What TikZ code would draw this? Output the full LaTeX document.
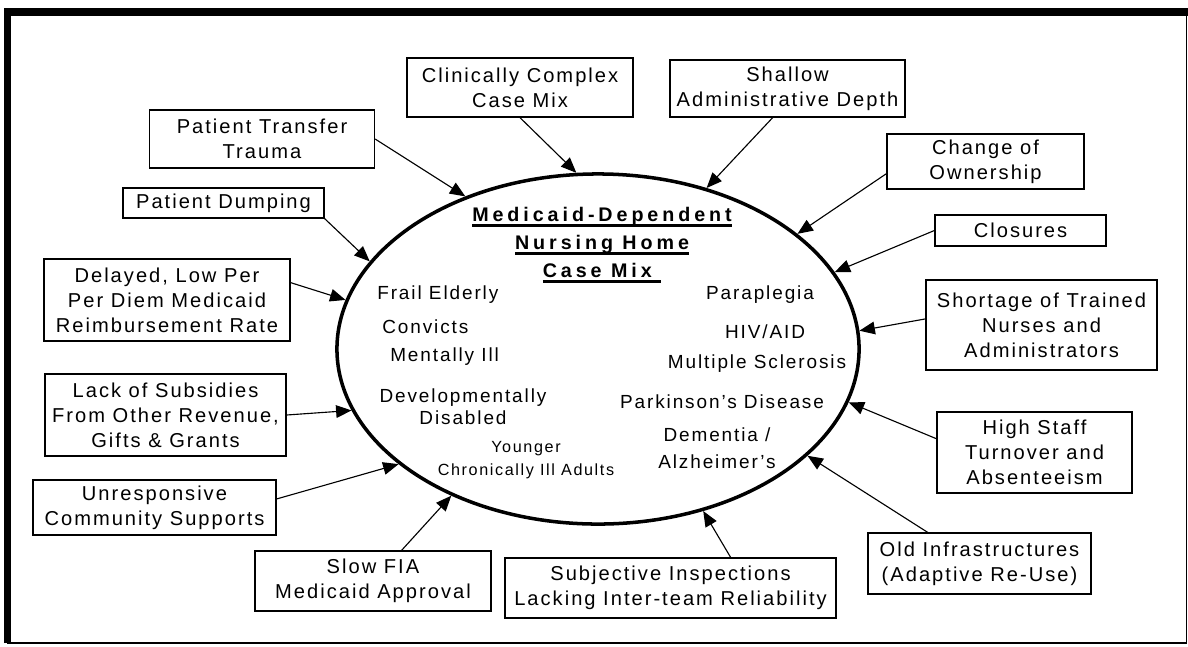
\documentclass[tikz,border=0pt]{standalone}
\usepackage{fontspec}
\setmainfont{Liberation Sans}[LetterSpace=10]
\newfontfamily\headfont{Liberation Sans}[LetterSpace=20]
\usetikzlibrary{shapes.geometric, arrows.meta}

\newcommand{\ulbar}[1]{\leavevmode\setbox0\hbox{#1}\rlap{\rule[-3.4pt]{\wd0}{1.9pt}}\box0}

\tikzset{
  boxsize/.style 2 args={minimum width=#1*0.025cm, minimum height=#2*0.025cm},
  factor/.style={draw, line width=0.9pt, align=center, inner sep=0pt,
    font=\fontsize{14.3}{17.8}\selectfont},
  inside/.style={align=center, inner sep=0pt, font=\fontsize{13.5}{17.8}\selectfont},
  push/.style={-{Triangle[length=11pt,width=9pt]}, line width=0.8pt},
}

\begin{document}
\begin{tikzpicture}[x=0.025cm, y=-0.025cm]
      \useasboundingbox (0,0) rectangle (1188,646);
        % frame
        \draw[line width=1pt] (7.5,12) rectangle (1186.5,643);
        \draw[line width=5pt] (7.5,643) -- (7.5,12) -- (1188,12);

        \node[ellipse, draw, line width=2.5pt, inner sep=0pt,
          minimum width=13.05cm, minimum height=8.75cm] (case) at (598,349) {};

        \node[inside, font=\headfont\bfseries\fontsize{14}{19.9}\selectfont] (head) at (602,245)
          {\ulbar{Medicaid-Dependent}\\\ulbar{Nursing Home}\\\ulbar{Case Mix\ }};

        \node[inside, anchor=west] (frail) at (377,295) {Frail Elderly};
        \node[inside, anchor=west] (convicts) at (382,327) {Convicts};
        \node[inside, anchor=west] (mental) at (390,357) {Mentally Ill};
        \node[inside, font=\fontsize{13.5}{15.6}\selectfont] (devel) at (463,407) {Developmentally\\Disabled};
        \node[inside, font=\fontsize{11.5}{16.4}\selectfont] (young) at (526,460) {Younger\\Chronically Ill Adults};
        \node[inside] (para) at (760,295) {Paraplegia};
        \node[inside] (hiv) at (765,332) {HIV/AID};
        \node[inside] (ms) at (757,364) {Multiple Sclerosis};
        \node[inside] (park) at (722,402) {Parkinson’s Disease};
        \node[inside, font=\fontsize{13.5}{19.2}\selectfont] (dem) at (717,448) {Dementia /\\Alzheimer’s};

        \node[factor, boxsize={226}{59}] (clin) at (520,87.5) {Clinically Complex\\Case Mix};
        \node[factor, boxsize={235}{57}] (shallow) at (787.5,88.5) {Shallow\\Administrative Depth};
        \node[factor, boxsize={225}{58}] (transfer) at (262,139) {Patient Transfer\\Trauma};
        \node[factor, boxsize={201}{30}] (dumping) at (223.5,203) {Patient Dumping};
        \node[factor, boxsize={246}{82}] (delayed) at (167,300) {Delayed, Low Per\\Per Diem Medicaid\\Reimbursement Rate};
        \node[factor, boxsize={241}{82}] (subsidies) at (165.5,415) {Lack of Subsidies\\From Other Revenue,\\Gifts \& Grants};
        \node[factor, boxsize={243}{55}] (unresp) at (154.5,507.5) {Unresponsive\\Community Supports};
        \node[factor, boxsize={236}{60}] (slowfia) at (373,581) {Slow FIA\\Medicaid Approval};
        \node[factor, boxsize={331}{60}] (subjective) at (670.5,588) {Subjective Inspections\\Lacking Inter-team Reliability};
        \node[factor, boxsize={223}{61}] (oldinfra) at (979.5,563.5) {Old Infrastructures\\(Adaptive Re-Use)};
        \node[factor, boxsize={195}{81}] (highstaff) at (1034.5,452.5) {High Staff\\Turnover and\\Absenteeism};
        \node[factor, boxsize={231}{90}] (shortage) at (1041.5,325) {Shortage of Trained\\Nurses and\\Administrators};
        \node[factor, boxsize={171}{31}] (closures) at (1020.5,230.5) {Closures};
        \node[factor, boxsize={197}{55}] (ownership) at (985.5,161.5) {Change of\\Ownership};

        \draw[push] (clin.south) -- (case.97);
        \draw[push] (shallow.-117) -- (case.56);
        \draw[push] (transfer.east) -- (case.131);
        \draw[push] (dumping.south east) -- (case.159);
        \draw[push] (delayed.8) -- (case.169);
        \draw[push] (subsidies.east) -- (case.194);
        \draw[push] (unresp.4) -- (case.210);
        \draw[push] (slowfia.47) -- (case.225);
        \draw[push] (subjective.27) -- (case.303);
        \draw[push] (oldinfra.149) -- (case.333);
        \draw[push] (highstaff.172) -- (case.348);
        \draw[push] (shortage.177) -- (case.4);
        \draw[push] (closures.west) -- (case.18);
        \draw[push] (ownership.187) -- (case.30);
      \end{tikzpicture}
\end{document}
